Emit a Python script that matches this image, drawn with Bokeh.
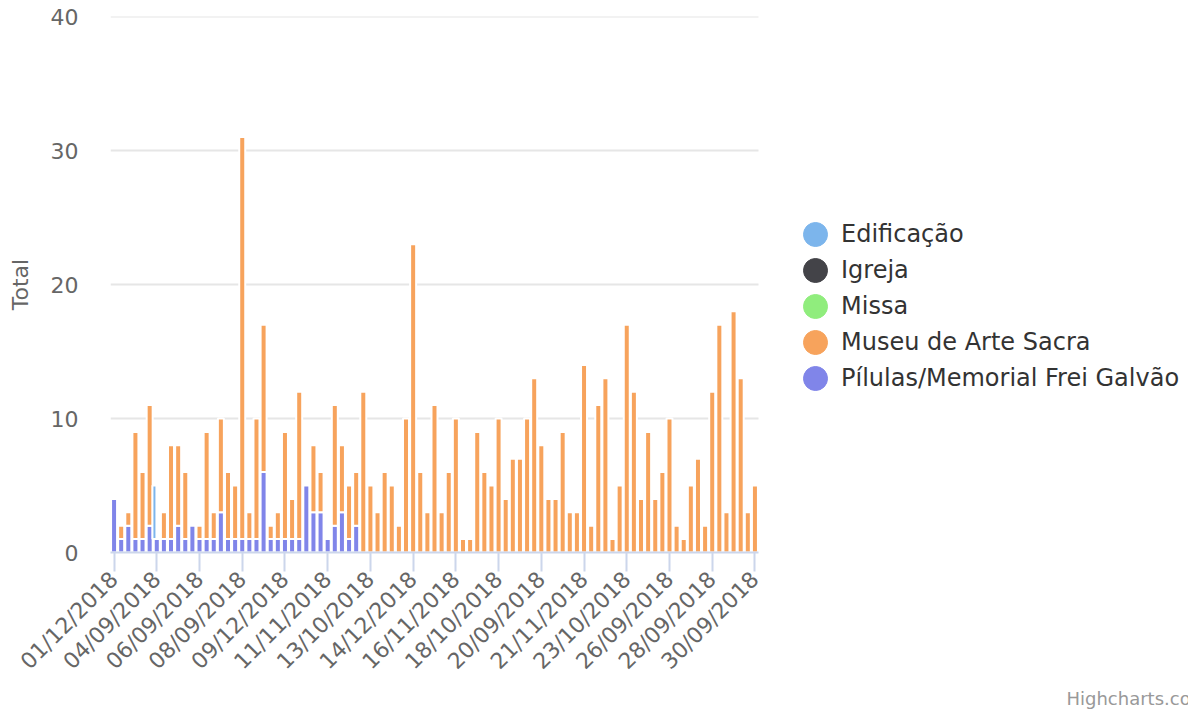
import numpy as np
from bokeh.plotting import figure
from bokeh.models import (ColumnDataSource, Range1d, FixedTicker, Legend, LegendItem,
                          Title, CDSView, BooleanFilter)
from bokeh.transform import dodge, stack
from bokeh.embed import file_html
from bokeh.resources import INLINE

categories = [
    "01/12/2018", "02/09/2018", "02/10/2018", "02/11/2018", "03/09/2018", "03/10/2018",
    "04/09/2018", "04/10/2018", "04/11/2018", "05/09/2018", "05/10/2018", "05/11/2018",
    "06/09/2018", "06/10/2018", "06/11/2018", "07/09/2018", "07/10/2018", "07/11/2018",
    "08/09/2018", "08/10/2018", "08/11/2018", "08/12/2018", "09/10/2018", "09/11/2018",
    "09/12/2018", "10/09/2018", "10/10/2018", "10/11/2018", "10/12/2018", "11/10/2018",
    "11/11/2018", "11/12/2018", "12/09/2018", "12/10/2018", "12/11/2018", "13/09/2018",
    "13/10/2018", "13/11/2018", "13/12/2018", "14/09/2018", "14/10/2018", "14/11/2018",
    "14/12/2018", "15/09/2018", "15/10/2018", "15/11/2018", "16/09/2018", "16/10/2018",
    "16/11/2018", "17/09/2018", "17/10/2018", "17/11/2018", "17/12/2018", "18/09/2018",
    "18/10/2018", "18/11/2018", "18/12/2018", "19/09/2018", "19/10/2018", "19/11/2018",
    "20/09/2018", "20/10/2018", "20/11/2018", "20/12/2018", "21/09/2018", "21/10/2018",
    "21/11/2018", "21/12/2018", "22/09/2018", "22/10/2018", "22/11/2018", "23/09/2018",
    "23/10/2018", "23/11/2018", "24/09/2018", "24/10/2018", "24/11/2018", "25/09/2018",
    "26/09/2018", "26/10/2018", "26/11/2018", "27/09/2018", "27/10/2018", "27/11/2018",
    "28/09/2018", "28/10/2018", "28/11/2018", "29/09/2018", "29/10/2018", "29/11/2018",
    "30/09/2018",
]

edificacao = [0, 0, 0, 0, 0, 0, 4, 0, 0, 0, 0, 0, 0, 0, 0, 0, 0, 0, 0, 0, 0, 0, 0, 0,
              0, 0, 0, 0, 0, 0, 0, 0, 0, 0, 0, 0, 0, 0, 0, 0, 0, 0, 0, 0, 0, 0, 0, 0,
              0, 0, 0, 0, 0, 0, 0, 0, 0, 0, 0, 0, 0, 0, 0, 0, 0, 0, 0, 0, 0, 0, 0, 0,
              0, 0, 0, 0, 0, 0, 0, 0, 0, 0, 0, 0, 0, 0, 0, 0, 0, 0, 0]
igreja = [0, 0, 0, 0, 0, 0, 0, 0, 0, 0, 0, 0, 0, 0, 0, 0, 0, 0, 0, 0, 0, 0, 0, 0,
          0, 0, 0, 0, 0, 0, 0, 0, 0, 0, 0, 0, 0, 0, 0, 0, 0, 0, 0, 0, 0, 0, 0, 0,
          0, 0, 0, 0, 0, 0, 0, 0, 0, 0, 0, 0, 0, 0, 0, 0, 0, 0, 0, 0, 0, 0, 0, 0,
          0, 0, 0, 0, 0, 0, 0, 0, 0, 0, 0, 0, 0, 0, 0, 0, 0, 0, 0]
missa = [0, 0, 0, 0, 0, 0, 0, 0, 0, 0, 0, 0, 0, 0, 0, 0, 0, 0, 0, 0, 0, 0, 0, 0,
         0, 0, 0, 0, 0, 0, 0, 0, 0, 0, 0, 0, 0, 0, 0, 0, 0, 0, 0, 0, 0, 0, 0, 0,
         0, 0, 0, 0, 0, 0, 0, 0, 0, 0, 0, 0, 0, 0, 0, 0, 0, 0, 0, 0, 0, 0, 0, 0,
         0, 0, 0, 0, 0, 0, 0, 0, 0, 0, 0, 0, 0, 0, 0, 0, 0, 0, 0]
museu = [0, 1, 1, 8, 5, 9, 0, 2, 7, 6, 5, 0, 1, 8, 2, 7, 5, 4, 30, 2, 9, 11, 1, 2,
         8, 3, 11, 0, 5, 3, 0, 9, 5, 4, 4, 12, 5, 3, 6, 5, 2, 10, 23, 6, 3, 11, 3, 6,
         10, 1, 1, 9, 6, 5, 10, 4, 7, 7, 10, 13, 8, 4, 4, 9, 3, 3, 14, 2, 11, 13, 1, 5,
         17, 12, 4, 9, 4, 6, 10, 2, 1, 5, 7, 2, 12, 17, 3, 18, 13, 3, 5]
pilulas = [4, 1, 2, 1, 1, 2, 1, 1, 1, 2, 1, 2, 1, 1, 1, 3, 1, 1, 1, 1, 1, 6, 1, 1,
           1, 1, 1, 5, 3, 3, 1, 2, 3, 1, 2, 0, 0, 0, 0, 0, 0, 0, 0, 0, 0, 0, 0, 0,
           0, 0, 0, 0, 0, 0, 0, 0, 0, 0, 0, 0, 0, 0, 0, 0, 0, 0, 0, 0, 0, 0, 0, 0,
           0, 0, 0, 0, 0, 0, 0, 0, 0, 0, 0, 0, 0, 0, 0, 0, 0, 0, 0]

series_names = ["Edificação", "Igreja", "Missa", "Museu de Arte Sacra", "Pílulas/Memorial Frei Galvão"]
colors = ["#7cb5ec", "#434348", "#90ed7d", "#f7a35c", "#8085e9"]
tick_idx = [0, 6, 12, 18, 24, 30, 36, 42, 48, 54, 60, 66, 72, 78, 84, 90]
y_ticks = [0, 10, 20, 30, 40]

FONT = "DejaVu Sans"
N = len(categories)

# layout geometry (pixels)
W, H = 1188, 711
LEFT, TOP, BOTTOM = 110, 16, 552
PLOT_RIGHT = 758            # where the category axis / grid end
frame_w = W - LEFT          # frame extends to the right edge so the legend fits inside
x_start = -0.5
x_end = x_start + N * frame_w / (PLOT_RIGHT - LEFT)

src = ColumnDataSource(dict(x=list(range(N)), cat=categories,
                            pilulas=pilulas, museu=museu, missa=missa,
                            igreja=igreja, edificacao=edificacao))

p = figure(width=W, height=H, output_backend="svg", toolbar_location=None,
           x_range=Range1d(x_start, x_end), y_range=Range1d(0, 40),
           min_border_left=LEFT, min_border_right=0, min_border_top=TOP,
           min_border_bottom=H - BOTTOM)
p.outline_line_color = None
p.background_fill_color = "white"

# horizontal grid lines limited to the category span
grid_src = ColumnDataSource(dict(y=y_ticks[1:], x0=[-0.5] * (len(y_ticks) - 1),
                                 x1=[N - 0.5] * (len(y_ticks) - 1)))
p.segment(x0="x0", x1="x1", y0="y", y1="y", source=grid_src,
          line_color="#e6e6e6", line_width=2, level="underlay")

BW = 0.843
order = [("pilulas", colors[4]), ("museu", colors[3]), ("missa", colors[2]), ("igreja", colors[1])]
cols_so_far = []
for col, colr in order:
    vals = src.data[col]
    view = CDSView(filter=BooleanFilter([v > 0 for v in vals]))
    bottom = stack(*cols_so_far) if cols_so_far else 0
    top = stack(*(cols_so_far + [col]))
    p.vbar(x="x", bottom=bottom, top=top, width=BW, source=src, view=view,
           fill_color=colr, line_color="white", line_width=2)
    cols_so_far.append(col)

view_e = CDSView(filter=BooleanFilter([v > 0 for v in edificacao]))
p.vbar(x=dodge("x", -0.33, range=p.x_range), bottom=stack(*cols_so_far),
       top=stack(*(cols_so_far + ["edificacao"])), width=0.56, source=src, view=view_e,
       fill_color=colors[0], line_color="white", line_width=2)

# legend proxies (not drawn in the plot area: NaN position)
items = []
for name, colr in zip(series_names, colors):
    r = p.ellipse(x=[np.nan], y=[np.nan], width=24, height=24,
                  width_units="screen", height_units="screen",
                  fill_color=colr, line_color=colr)
    items.append(LegendItem(label=name, renderers=[r]))
legend = Legend(items=items, location=(690, 159), border_line_color=None,
                background_fill_alpha=0, padding=0, margin=0,
                label_text_font=FONT, label_text_font_size="24px", label_text_color="#333333",
                label_standoff=11, glyph_width=30, glyph_height=30, spacing=6,
                label_height=30)
p.add_layout(legend)

# x axis
xa = p.xaxis[0]
xa.ticker = FixedTicker(ticks=tick_idx)
xa.bounds = (-0.5, N - 0.5)
xa.major_label_overrides = {i: categories[i] for i in tick_idx}
xa.major_label_orientation = np.pi / 4
xa.major_label_text_font = FONT
xa.major_label_text_font_size = "22px"
xa.major_label_text_color = "#666666"
xa.axis_line_color = "#ccd6eb"
xa.axis_line_width = 2
xa.major_tick_line_color = "#ccd6eb"
xa.major_tick_line_width = 2
xa.major_tick_out = 19
xa.major_tick_in = 0
xa.minor_tick_line_color = None
xa.major_label_standoff = 4
p.xgrid.grid_line_color = None
p.ygrid.grid_line_color = None

# y axis
ya = p.yaxis[0]
ya.ticker = FixedTicker(ticks=y_ticks)
ya.axis_line_color = None
ya.major_tick_line_color = None
ya.major_tick_out = 0
ya.major_tick_in = 0
ya.minor_tick_line_color = None
ya.major_label_text_font = FONT
ya.major_label_text_font_size = "22px"
ya.major_label_text_color = "#666666"
ya.major_label_standoff = 32
ya.axis_label = "Total"
ya.axis_label_text_font = FONT
ya.axis_label_text_font_size = "22px"
ya.axis_label_text_font_style = "normal"
ya.axis_label_text_color = "#666666"
ya.axis_label_standoff = 15

credits = Title(text="Highcharts.com", align="left", offset=956, text_font=FONT,
                text_font_size="18px", text_color="#999999", text_font_style="normal",
                standoff=0)
p.add_layout(credits, "below")

open("out.html", "w").write(file_html(p, INLINE))
